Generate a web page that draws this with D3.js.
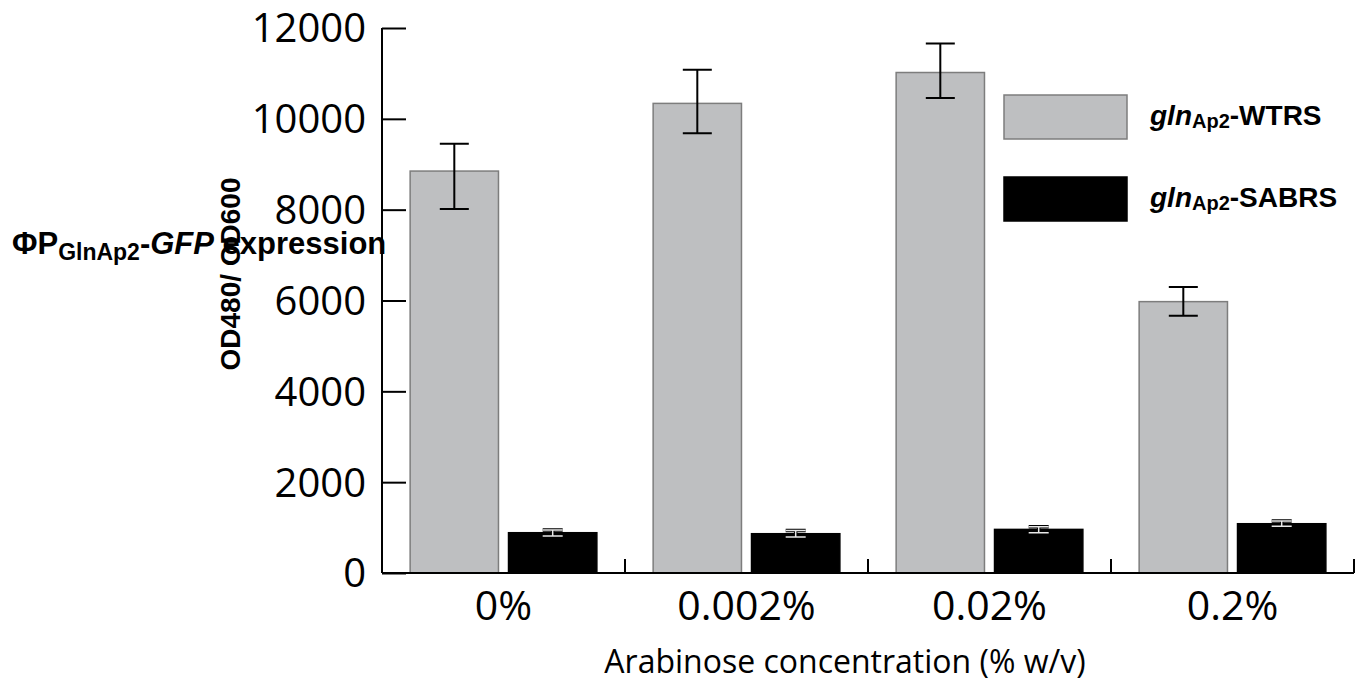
<!DOCTYPE html>
<html>
<head>
<meta charset="utf-8">
<script src="https://cdn.jsdelivr.net/npm/d3@7"></script>
<style>
  body { margin: 0; background: #fff; }
  svg { display: block; }
  .tick-label { font-family: "Open Sans", sans-serif; }
  .bold { font-family: "Liberation Sans", Arial, sans-serif; font-weight: bold; }
</style>
</head>
<body>
<main></main>
<script>
// data
const concentrations = ["0%", "0.002%", "0.02%", "0.2%"];
const seriesNames = ["WTRS", "SABRS"];
const wtrsMean = [8850, 10340, 11020, 5975];
const wtrsHigh = [9450, 11080, 11660, 6300];
const wtrsLow = [8015, 9680, 10460, 5665];
const sabrsMean = [887, 865, 960, 1085];
const sabrsHigh = [947, 936, 1020, 1145];
const sabrsLow = [815, 793, 887, 1030];
const yTicks = [0, 2000, 4000, 6000, 8000, 10000, 12000];

const w = 1358;
const h = 684;
const plotL = 382, plotR = 1354, plotT = 28, plotB = 573;

const svg = d3.select("main")
  .append("svg")
  .attr("width", w)
  .attr("height", h);

const x = d3.scaleBand()
  .domain(concentrations)
  .range([plotL, plotR])
  .padding(0);

const xInner = d3.scaleBand()
  .domain(seriesNames)
  .range([0, x.bandwidth()])
  .paddingInner(0.102)
  .paddingOuter(0.286);

const y = d3.scaleLinear()
  .domain([0, 12000])
  .range([plotB, plotT]);

const rows = concentrations.map((c, i) => ({
  c,
  bars: [
    { s: "WTRS", v: wtrsMean[i], hi: wtrsHigh[i], lo: wtrsLow[i] },
    { s: "SABRS", v: sabrsMean[i], hi: sabrsHigh[i], lo: sabrsLow[i] }
  ]
}));

const groups = svg.append("g")
  .selectAll("g")
  .data(rows)
  .enter()
  .append("g")
  .attr("transform", d => `translate(${x(d.c)},0)`);

groups.selectAll("rect")
  .data(d => d.bars)
  .enter()
  .append("rect")
  .attr("x", d => xInner(d.s))
  .attr("width", xInner.bandwidth())
  .attr("y", d => y(d.v))
  .attr("height", d => y(0) - y(d.v))
  .attr("fill", d => d.s === "WTRS" ? "#bebfc1" : "#000")
  .attr("stroke", d => d.s === "WTRS" ? "#7d7d7d" : "#000")
  .attr("stroke-width", 1.5);

// error bars
groups.each(function(d) {
  const g = d3.select(this);
  d.bars.forEach(b => {
    const cx = xInner(b.s) + xInner.bandwidth() / 2;
    const cap = b.s === "WTRS" ? 14.5 : 10;
    const p = `M${cx - cap},${y(b.hi)}H${cx + cap}M${cx},${y(b.hi)}V${y(b.lo)}M${cx - cap},${y(b.lo)}H${cx + cap}`;
    if (b.s === "WTRS") {
      g.append("path").attr("d", p).attr("fill", "none").attr("stroke", "#000").attr("stroke-width", 2);
    } else {
      g.append("path").attr("d", p).attr("fill", "none").attr("stroke", "#000").attr("stroke-width", 3.5);
      g.append("path").attr("d", p).attr("fill", "none").attr("stroke", "#e8e8e8").attr("stroke-width", 1.5);
    }
  });
});

// y axis
const yAxis = svg.append("g")
  .attr("transform", `translate(${plotL},0)`)
  .call(d3.axisRight(y).tickValues(yTicks).tickSize(24).tickFormat(""));
yAxis.select(".domain").attr("d", `M0,${plotT}V${plotB}`).attr("stroke-width", 2);
yAxis.selectAll(".tick line").attr("stroke-width", 2);

svg.append("g")
  .selectAll("text")
  .data(yTicks)
  .enter()
  .append("text")
  .attr("class", "tick-label")
  .attr("x", plotL - 16)
  .attr("y", d => y(d))
  .attr("dy", "0.36em")
  .attr("text-anchor", "end")
  .attr("font-size", 40)
  .text(d => d);

// x axis
const xAxis = svg.append("g")
  .attr("transform", `translate(0,${plotB})`)
  .call(d3.axisBottom(x).tickSize(0).tickFormat(""));
xAxis.select(".domain").attr("d", `M${plotL},0H${plotR}`).attr("stroke-width", 2);

svg.append("g")
  .selectAll("line")
  .data(concentrations)
  .enter()
  .append("line")
  .attr("x1", d => x(d) + x.bandwidth())
  .attr("x2", d => x(d) + x.bandwidth())
  .attr("y1", plotB)
  .attr("y2", plotB - 14)
  .attr("stroke", "#000")
  .attr("stroke-width", 2);

svg.append("g")
  .selectAll("text")
  .data(concentrations)
  .enter()
  .append("text")
  .attr("class", "tick-label")
  .attr("x", d => x(d) + x.bandwidth() / 2)
  .attr("y", 620)
  .attr("text-anchor", "middle")
  .attr("font-size", 41)
  .text(d => d);

svg.append("text")
  .attr("class", "tick-label")
  .attr("x", 845)
  .attr("y", 673)
  .attr("text-anchor", "middle")
  .attr("font-size", 32)
  .text("Arabinose concentration (% w/v)");

// y title
svg.append("text")
  .attr("class", "bold")
  .attr("transform", "translate(240,274) rotate(-90)")
  .attr("text-anchor", "middle")
  .attr("font-size", 28)
  .text("OD480/ OD600");

const title = svg.append("text")
  .attr("class", "bold")
  .attr("x", 12)
  .attr("y", 254)
  .attr("font-size", 31);
title.append("tspan").text("ΦP");
title.append("tspan").attr("font-size", 23).attr("dy", 6).text("GlnAp2");
title.append("tspan").attr("dy", -6).text("-");
title.append("tspan").attr("font-style", "italic").text("GFP");
title.append("tspan").text(" expression");

// legend
const legend = svg.append("g")
  .selectAll("g")
  .data(seriesNames)
  .enter()
  .append("g")
  .attr("transform", (d, i) => `translate(1004,${95 + i * 82})`);

legend.append("rect")
  .attr("width", 123)
  .attr("height", 44)
  .attr("fill", d => d === "WTRS" ? "#bebfc1" : "#000")
  .attr("stroke", d => d === "WTRS" ? "#7d7d7d" : "#000")
  .attr("stroke-width", 1.5);

const lt = legend.append("text")
  .attr("class", "bold")
  .attr("x", 146)
  .attr("y", 30)
  .attr("font-size", 28);
lt.append("tspan").attr("font-style", "italic").text("gln");
lt.append("tspan").attr("font-size", 20).attr("dy", 3).text("Ap2");
lt.append("tspan").attr("dy", -3).text(d => "-" + d);
</script>
</body>
</html>
